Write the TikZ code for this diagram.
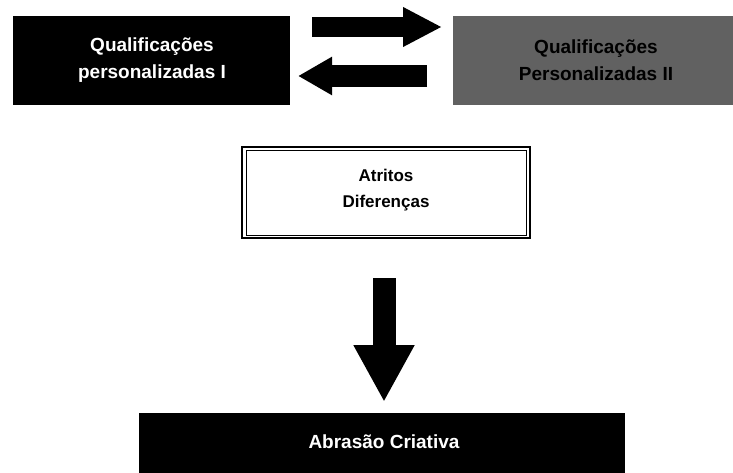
\documentclass[tikz,border=0pt]{standalone}
\usepackage{fontspec}
\setmainfont{Liberation Sans}
\usetikzlibrary{arrows.meta}
\begin{document}
\begin{tikzpicture}[x=1pt,y=-1pt,
  darkbox/.style={fill=black,draw=none},
  greybox/.style={fill=black!62,draw=none},
  lbl/.style={font=\bfseries\fontsize{19}{27}\selectfont,align=center,inner sep=0pt},
  blockarrow/.style={draw=black,line cap=butt},
]
\useasboundingbox (0,0) rectangle (733,473);

% top left block
\path[darkbox] (13,16) rectangle (290,105);
\node[lbl,text=white] (qa) at (152,60) {Qualificações\\personalizadas I};

% top right block
\path[greybox] (453,16) rectangle (733,105);
\node[lbl,text=black] (qb) at (596,60) {Qualificações\\Personalizadas II};

% exchange arrows between the two blocks
\coordinate (r0) at (312,27);
\coordinate (r1) at (442,27);
\draw[blockarrow,line width=20pt,-{Triangle[length=39pt,width=37pt]}] (r0) -- (r1);
\coordinate (l0) at (427,76);
\coordinate (l1) at (298,76);
\draw[blockarrow,line width=22pt,-{Triangle[length=34pt,width=36pt]}] (l0) -- (l1);

% middle box with double frame
\draw[line width=1.4pt] (242,147) rectangle (530,238);
\draw[line width=0.8pt] (246,150) rectangle (526,235);
\node[font=\bfseries\fontsize{17}{26}\selectfont,align=center,inner sep=0pt] (mid) at (386,190) {Atritos\\Diferenças};

% downward arrow
\coordinate (d0) at (384,278);
\coordinate (d1) at (384,402);
\draw[blockarrow,line width=23pt,-{Triangle[length=57pt,width=57pt]}] (d0) -- (d1);

% bottom block
\path[darkbox] (139,413) rectangle (625,473);
\node[lbl,text=white] (ab) at (384,442) {Abrasão Criativa};
\end{tikzpicture}
\end{document}
